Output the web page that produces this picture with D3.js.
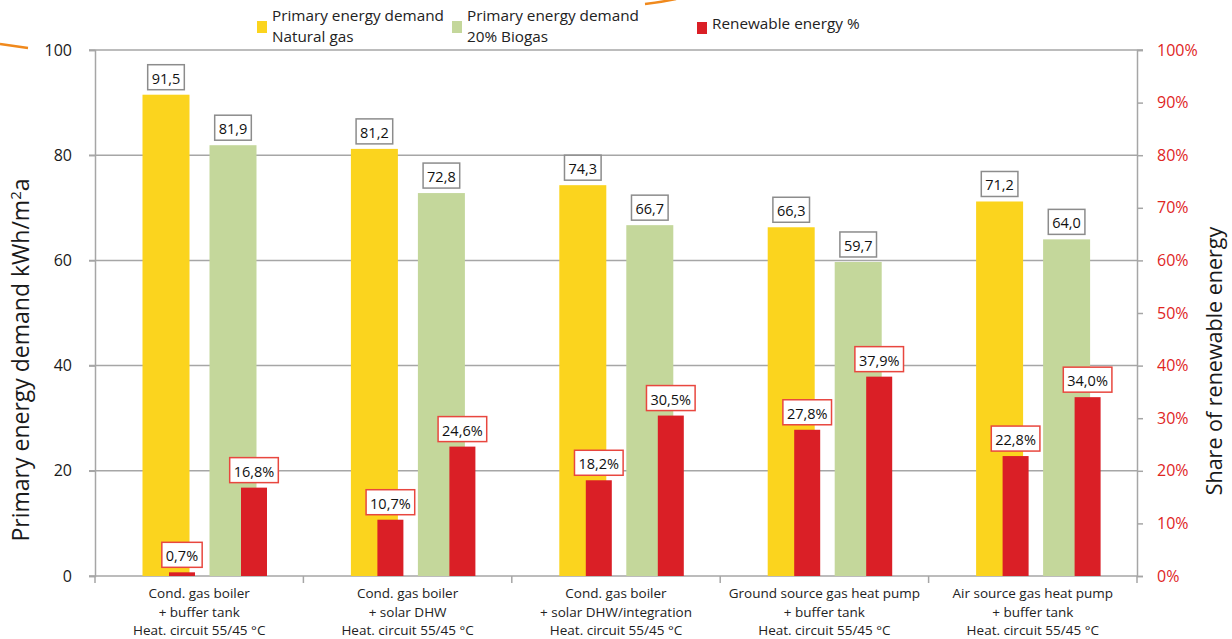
<!DOCTYPE html>
<html>
<head>
<meta charset="utf-8">
<script src="https://d3js.org/d3.v7.min.js"></script>
<style>
  body { margin: 0; background: #fff; }
  svg text { font-family: 'Open Sans', sans-serif; }
</style>
</head>
<body>
<div id="chart"></div>
<script>
// data
const categories = [
  ["Cond. gas boiler", "+ buffer tank", "Heat. circuit 55/45 °C"],
  ["Cond. gas boiler", "+ solar DHW", "Heat. circuit 55/45 °C"],
  ["Cond. gas boiler", "+ solar DHW/integration", "Heat. circuit 55/45 °C"],
  ["Ground source gas heat pump", "+ buffer tank", "Heat. circuit 55/45 °C"],
  ["Air source gas heat pump", "+ buffer tank", "Heat. circuit 55/45 °C"]
];
const naturalGas = [91.5, 81.2, 74.3, 66.3, 71.2];
const biogas = [81.9, 72.8, 66.7, 59.7, 64.0];
const renewableNG = [0.7, 10.7, 18.2, 27.8, 22.8];
const renewableBio = [16.8, 24.6, 30.5, 37.9, 34.0];
const leftTicks = [0, 20, 40, 60, 80, 100];
const rightTicks = [0, 10, 20, 30, 40, 50, 60, 70, 80, 90, 100];
const legendItems = [
  { lines: ["Primary energy demand", "Natural gas"], color: "#fbd41e" },
  { lines: ["Primary energy demand", "20% Biogas"], color: "#c4d79b" },
  { lines: ["Renewable energy %"], color: "#da1f26" }
];

const width = 1232, height = 639;
const m = { left: 95, right: 1137, top: 50, bottom: 576 };

const svg = d3.select("#chart").append("svg")
  .attr("width", width).attr("height", height);

const locale = d3.formatLocale({ decimal: ",", thousands: ".", grouping: [3], currency: ["", "€"] });
const fmt = locale.format(".1f");

const x = d3.scaleBand().domain(d3.range(categories.length)).range([m.left, m.right]);
const xPrim = d3.scaleBand().domain(["ng", "bio"]).range([47.5, 161.5]).paddingInner(20 / 67);
const xSec = d3.scaleBand().domain(["ng", "bio"]).range([74, 172]).paddingInner(46 / 72);
const y = d3.scaleLinear().domain([0, 100]).range([m.bottom, m.top]);
const y2 = d3.scaleLinear().domain([0, 100]).range([m.bottom, m.top]);

const gridColor = "#a6a6a6";

// gridlines
svg.append("g").selectAll("line").data(leftTicks.filter(d => d > 0)).join("line")
  .attr("x1", m.left - 6).attr("x2", d => d === 100 ? m.right + 6 : m.right)
  .attr("y1", d => y(d)).attr("y2", d => y(d))
  .attr("stroke", gridColor).attr("stroke-width", 1.5);

// left axis
const yAxis = svg.append("g").attr("transform", `translate(${m.left},0)`)
  .call(d3.axisLeft(y).tickValues(leftTicks).tickSize(6).tickPadding(17));
yAxis.select(".domain").attr("stroke", gridColor).attr("stroke-width", 1.5);
yAxis.selectAll(".tick line").attr("stroke", gridColor).attr("stroke-width", 1.5);
yAxis.selectAll("text").attr("font-size", 16).attr("fill", "#1a1a1a");

// right axis
const y2Axis = svg.append("g").attr("transform", `translate(${m.right},0)`)
  .call(d3.axisRight(y2).tickValues(rightTicks).tickSize(6).tickPadding(14).tickFormat(d => d + "%"));
y2Axis.select(".domain").attr("stroke", gridColor).attr("stroke-width", 1.5);
y2Axis.selectAll(".tick line").attr("stroke", gridColor).attr("stroke-width", 1.5);
y2Axis.selectAll("text").attr("font-size", 16).attr("fill", "#e0261f");

// x axis
const xAxisG = svg.append("g").attr("transform", `translate(0,${m.bottom})`);
xAxisG.append("line").attr("x1", m.left - 6).attr("x2", m.right)
  .attr("stroke", gridColor).attr("stroke-width", 1.5);
xAxisG.selectAll(".xt").data(d3.range(categories.length + 1)).join("line")
  .attr("x1", i => i < categories.length ? x(i) : m.right)
  .attr("x2", i => i < categories.length ? x(i) : m.right)
  .attr("y1", 0).attr("y2", 7)
  .attr("stroke", gridColor).attr("stroke-width", 1.5);

const cat = svg.append("g");
categories.forEach((lines, i) => {
  const t = cat.append("text")
    .attr("x", x(i) + x.bandwidth() / 2).attr("y", 598)
    .attr("text-anchor", "middle").attr("font-size", 13.5).attr("fill", "#222");
  lines.forEach((l, j) => t.append("tspan")
    .attr("x", x(i) + x.bandwidth() / 2).attr("dy", j === 0 ? 0 : 18.5).text(l));
});

// bars
const rows = categories.map((c, i) => ({
  i, ng: naturalGas[i], bio: biogas[i], rng: renewableNG[i], rbio: renewableBio[i]
}));

function primBars(key, color) {
  svg.append("g").selectAll("rect").data(rows).join("rect")
    .attr("x", d => x(d.i) + xPrim(key))
    .attr("width", xPrim.bandwidth())
    .attr("y", d => y(d[key]))
    .attr("height", d => y(0) - y(d[key]))
    .attr("fill", color);
}
primBars("ng", "#fbd41e");
primBars("bio", "#c4d79b");

function secBars(key, skey) {
  svg.append("g").selectAll("rect").data(rows).join("rect")
    .attr("x", d => x(d.i) + xSec(skey))
    .attr("width", xSec.bandwidth())
    .attr("y", d => y2(d[key]))
    .attr("height", d => y2(0) - y2(d[key]))
    .attr("fill", "#da1f26");
}
secBars("rng", "ng");
secBars("rbio", "bio");

// value labels
function label(cx, by, txt, stroke) {
  const g = svg.append("g");
  const t = g.append("text").attr("x", cx).attr("y", by - 11)
    .attr("text-anchor", "middle").attr("font-size", 14.5).attr("fill", "#111").text(txt);
  const w = t.node().getComputedTextLength() + 8;
  g.insert("rect", "text")
    .attr("x", cx - w / 2).attr("y", by - 30).attr("width", w).attr("height", 25)
    .attr("fill", "#fff").attr("stroke", stroke).attr("stroke-width", 1.5);
}
rows.forEach(d => {
  label(x(d.i) + xPrim("ng") + xPrim.bandwidth() / 2, y(d.ng), fmt(d.ng), "#8c8c8c");
  label(x(d.i) + xPrim("bio") + xPrim.bandwidth() / 2, y(d.bio), fmt(d.bio), "#8c8c8c");
});
rows.forEach(d => {
  label(x(d.i) + xSec("ng") + xSec.bandwidth() / 2, y2(d.rng), fmt(d.rng) + "%", "#e8473f");
  label(x(d.i) + xSec("bio") + xSec.bandwidth() / 2, y2(d.rbio), fmt(d.rbio) + "%", "#e8473f");
});

// axis titles
const lt = svg.append("text")
  .attr("transform", "translate(29,360) rotate(-90)")
  .attr("text-anchor", "middle").attr("font-size", 23).attr("fill", "#1a1a1a")
  .attr("font-family", "Lato, 'Open Sans', sans-serif");
lt.append("tspan").text("Primary energy demand kWh/m");
lt.append("tspan").attr("dy", -8).attr("font-size", 15).text("2");
lt.append("tspan").attr("dy", 8).text("a");

svg.append("text")
  .attr("transform", "translate(1222,361) rotate(-90)")
  .attr("text-anchor", "middle").attr("font-size", 21.5).attr("fill", "#1a1a1a")
  .attr("font-family", "Lato, 'Open Sans', sans-serif")
  .text("Share of renewable energy");

// legend
const legendX = [257, 452, 697];
const legend = svg.append("g");
legendItems.forEach((it, i) => {
  const sy = it.lines.length > 1 ? 21 : 22;
  legend.append("rect").attr("x", legendX[i]).attr("y", sy)
    .attr("width", 10).attr("height", 12).attr("fill", it.color);
  const t = legend.append("text").attr("x", legendX[i] + 15)
    .attr("y", it.lines.length > 1 ? 21 : 29)
    .attr("font-size", 15.3).attr("fill", "#222");
  it.lines.forEach((l, j) => t.append("tspan")
    .attr("x", legendX[i] + 15).attr("dy", j === 0 ? 0 : 21).text(l));
});

// orange decorative strokes from the source layout
svg.append("path").attr("d", "M0,44 Q14,46 28,48")
  .attr("fill", "none").attr("stroke", "#f0891c").attr("stroke-width", 2.5);
svg.append("path").attr("d", "M645,4 Q662,2 676,-1")
  .attr("fill", "none").attr("stroke", "#f0891c").attr("stroke-width", 2.5);
</script>
</body>
</html>
